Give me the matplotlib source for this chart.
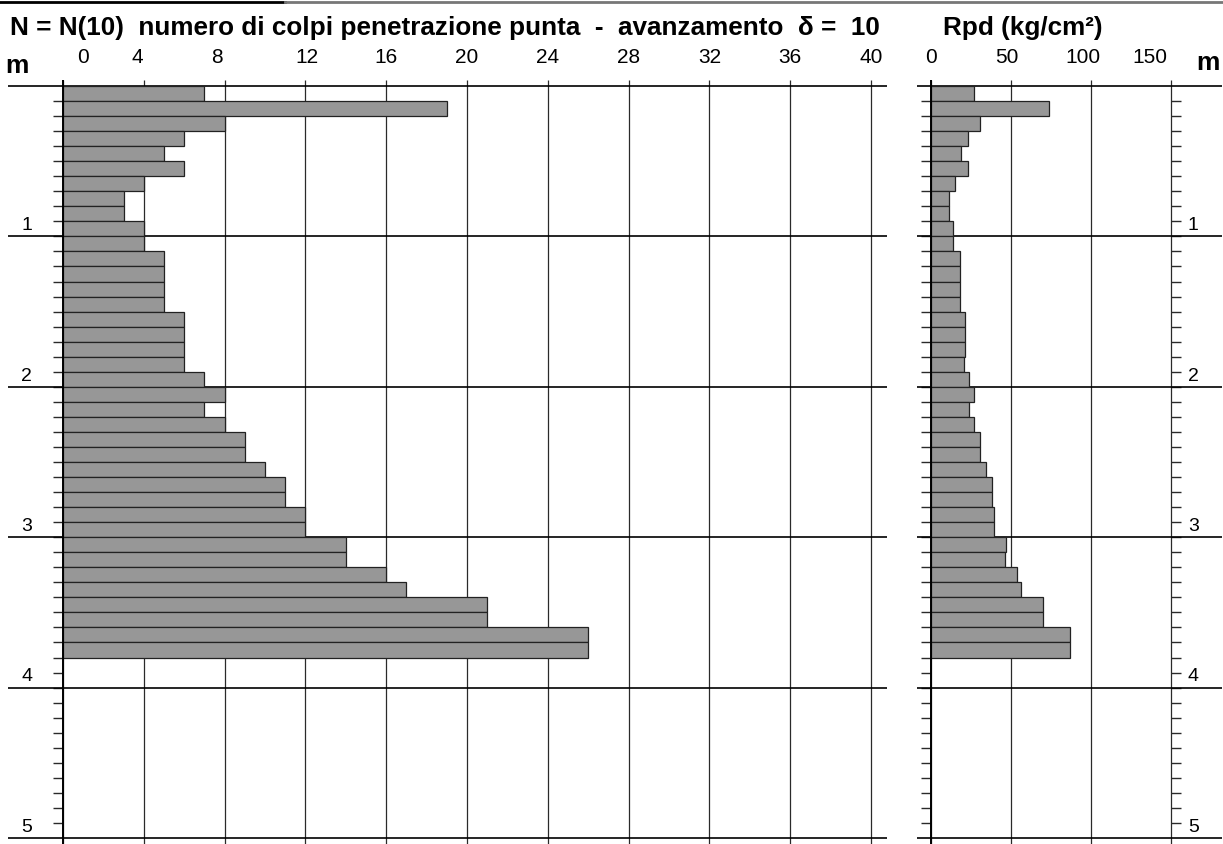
import numpy as np
import matplotlib.pyplot as plt

plt.rcParams['font.family'] = ['Liberation Sans', 'DejaVu Sans']

# prova penetrometrica: un valore ogni 10 cm, da 0 a 3.8 m
depth_top = np.round(np.arange(0, 3.8, 0.1), 1)
colpi = [7, 19, 8, 6, 5, 6, 4, 3, 3, 4,
         4, 5, 5, 5, 5, 6, 6, 6, 6, 7,
         8, 7, 8, 9, 9, 10, 11, 11, 12, 12,
         14, 14, 16, 17, 21, 21, 26, 26]
rpd = [27, 74, 30.5, 23, 19, 23, 15, 11, 11, 14,
       14, 18, 18, 18, 18, 21.5, 21.5, 21, 20.5, 24,
       27, 23.5, 27, 30.5, 30.5, 34.5, 38, 38, 39.5, 39.5,
       47, 46, 53.5, 56.5, 70, 70, 87, 87]

n_ticks = [0, 4, 8, 12, 16, 20, 24, 28, 32, 36, 40]
n_label_pos = [1.0, 3.7, 7.6, 12.1, 16, 20, 24, 28, 32, 36, 40]
rpd_ticks = [0, 50, 100, 150]
rpd_label_pos = [0, 47.5, 95, 137]
metri = [1, 2, 3, 4, 5]

W, H = 1223, 844
TOP = 86          # pixel riga 0 m
PX_M = 150.4      # pixel per metro
D_BOT = (H - TOP) / PX_M

fig = plt.figure(figsize=(W / 100, H / 100), dpi=100)

def make_axes(x0, x1):
    ax = fig.add_axes([x0 / W, 0, (x1 - x0) / W, (H - TOP) / H])
    ax.set_ylim(D_BOT, 0)
    for s in ax.spines.values():
        s.set_visible(False)
    ax.set_xticks([])
    ax.set_yticks(np.round(np.arange(0.1, 5.0, 0.1), 1))
    ax.set_yticklabels([])
    ax.patch.set_alpha(0)
    return ax

BAR = dict(height=0.1, align='edge', color='#979797', edgecolor='#222222',
           linewidth=0.9, zorder=3)
LINE = '#2a2a2a'
FS_TICK = 15

# --- pannello N(10) ---
axL = make_axes(63, 871)
axL.set_xlim(0, 40)
axL.tick_params(axis='y', direction='out', length=7, width=1, color=LINE,
                left=True, right=False)
axL.vlines(n_ticks, -0.04, D_BOT, colors=LINE, lw=0.9, zorder=1, clip_on=False)
axL.vlines(0, -0.04, D_BOT, colors='black', lw=1.4, zorder=4, clip_on=False)
axL.hlines(range(6), -2.72, 40.8, colors='black', lw=1.2, zorder=2, clip_on=False)
axL.barh(depth_top, colpi, **BAR)
for p, t in zip(n_label_pos, n_ticks):
    axL.text(p, -0.19, str(t), ha='center', va='center', fontsize=FS_TICK, clip_on=False)
for d in metri:
    axL.text(-1.8, d - 0.015, str(d), ha='center', va='bottom', fontsize=FS_TICK - 1,
             clip_on=False)

# --- pannello Rpd ---
axR = make_axes(931, 1171)
axR.set_xlim(0, 150)
axR.tick_params(axis='y', direction='out', length=7, width=1, color=LINE,
                left=True, right=True)
axR.vlines(rpd_ticks, -0.04, D_BOT, colors=LINE, lw=0.9, zorder=1, clip_on=False)
axR.vlines(0, -0.04, D_BOT, colors='black', lw=1.4, zorder=4, clip_on=False)
axR.hlines(range(6), -8.7, 182, colors='black', lw=1.2, zorder=2, clip_on=False)
axR.barh(depth_top, rpd, **BAR)
for p, t in zip(rpd_label_pos, rpd_ticks):
    axR.text(p, -0.19, str(t), ha='center', va='center', fontsize=FS_TICK, clip_on=False)
for d in metri:
    axR.text(164, d - 0.015, str(d), ha='center', va='bottom', fontsize=FS_TICK - 1,
             clip_on=False)

# intestazioni
fig.text(10 / W, 1 - 28 / H,
         'N = N(10)  numero di colpi penetrazione punta  -  avanzamento  δ =  10',
         fontsize=18.8, fontweight='bold', va='center', ha='left')
fig.text(943 / W, 1 - 28 / H, 'Rpd (kg/cm²)', fontsize=18.8, fontweight='bold',
         va='center', ha='left')
fig.text(17 / W, 1 - 66 / H, 'm', fontsize=19, fontweight='bold', va='center', ha='center')
fig.text(1208 / W, 1 - 63 / H, 'm', fontsize=19, fontweight='bold', va='center', ha='center')

# bordo superiore del foglio
fig.add_artist(plt.Line2D([0, 285 / W], [1 - 2 / H, 1 - 2 / H], color='black', lw=2))
fig.add_artist(plt.Line2D([285 / W, 1], [1 - 2 / H, 1 - 2 / H], color='#777777', lw=2))

fig.savefig('out.png', dpi=100)
